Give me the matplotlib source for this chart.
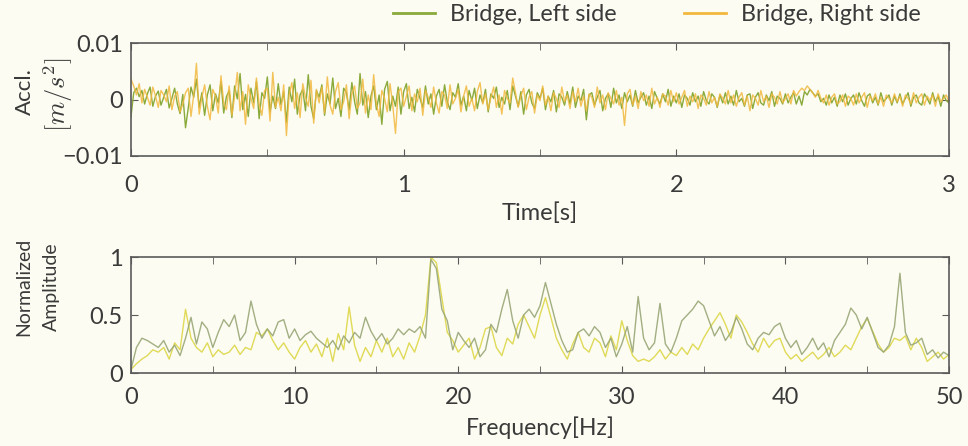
import numpy as np
import matplotlib
matplotlib.use("Agg")
import matplotlib.pyplot as plt
from matplotlib.ticker import MultipleLocator, FixedLocator

# ---------------- data ----------------
# acceleration, in 1e-3 m/s^2, sampled at 100 Hz over 3 s
left_acc_milli = [
    -3.0, 1.2, 2.0, 0.5, 1.6, -0.8, 1.0, 2.2, -1.2, 0.6, 1.5, -1.0, 0.4, 1.8, -1.5, 0.2, 2.0, -0.8, -2.5, 0.9,
    -5.0, -1.5, 2.2, 0.4, 3.6, -1.4, 1.2, -2.8, 0.8, 2.6, -2.0, 1.0, -0.6, 3.2, -2.4, 0.5, 1.6, -3.2, 2.4, 0.1,
    4.6, -1.8, 0.9, -3.0, 2.0, -0.6, 3.2, -3.4, 1.2, 0.2, 4.0, -2.2, 0.6, -1.6, 2.8, -0.9, 1.4, -4.0, 2.2, -0.4,
    3.6, -2.6, 0.8, 1.8, -2.0, 4.4, -1.2, -3.4, 1.6, 0.4, 2.6, -2.8, 1.0, -0.8, 3.8, -1.6, 0.2, -3.0, 2.0, 1.2,
    -1.8, 3.0, -0.4, -2.6, 4.6, -1.0, 1.4, -3.2, 0.6, 2.4, -1.8, 0.8, -4.4, 1.8, 3.2, -2.0, 0.6, -1.2, 2.2, -2.6,
    1.4, 2.8, -1.6, 0.4, -2.2, 1.8, 0.2, -1.4, 2.4, -0.8, 1.0, -2.6, 0.6, 1.8, -1.2, 2.6, -0.4, -1.8, 1.2, 0.4,
    2.8, -1.0, 0.6, -2.0, 1.6, -0.2, 2.0, -1.6, 0.8, -0.6, 1.8, -2.2, 1.0, 0.2, 2.2, -1.4, 0.4, -0.8, 1.6, -1.8,
    2.4, 0.6, -1.2, 1.4, -2.6, 0.8, 1.8, -0.6, -1.6, 1.2, 0.2, 2.0, -1.8, 0.6, -0.4, 1.6, -2.2, 1.0, 0.4, -1.0,
    1.4, -0.8, 2.2, -1.4, 0.6, -0.2, 1.8, -3.6, 0.8, 1.2, -1.0, 0.4, 1.6, -2.0, 0.2, 1.0, -1.4, 2.0, -0.6, 0.8,
    -1.6, 1.2, -0.4, 0.8, -1.2, 1.6, -0.6, 0.4, 1.2, -1.0, 0.6, -1.6, 1.4, 0.2, -0.8, 1.0, -0.4, 1.8, -1.2, 0.6,
    -0.6, 1.0, -1.4, 0.8, 0.2, -1.0, 1.2, -0.4, 0.6, -1.2, 1.4, -0.2, -0.8, 1.0, 0.4, -1.4, 0.8, -0.6, 1.2, -0.8,
    0.6, -1.0, 1.6, -0.4, 0.2, -1.2, 0.8, 1.0, -1.6, 0.4, 1.2, -0.6, -1.0, 0.8, -0.2, 1.4, -1.2, 0.6, 0.2, -0.8,
    1.0, -0.6, 0.4, 1.2, -0.8, 0.6, -1.0, 1.4, 0.8, 1.8, 1.2, 0.6, 1.0, -0.4, 0.2, -1.0, 0.8, -0.6, 0.4, -1.2,
    0.8, -0.4, 1.0, -1.0, 0.2, 0.8, -0.8, 1.2, -0.2, -1.2, 0.6, 1.0, -0.6, 0.4, -1.0, 1.2, -0.4, 0.2, 0.8, -1.0,
    0.6, -0.6, 1.0, -0.8, 0.2, 1.2, -1.2, 0.4, 0.8, -0.6, -1.0, 1.0, 0.2, -0.8, 1.2, -0.4, 0.6, -1.2, 0.8, -0.2,
    -0.6,
]
right_acc_milli = [
    3.6, 2.4, 0.8, 2.8, -0.6, 1.8, 0.4, -1.0, 2.2, 0.6, -1.4, 1.6, 0.8, -0.4, 2.4, -1.8, 0.6, 1.4, -2.2, -0.8,
    1.2, 2.0, -3.0, 0.8, 6.4, -2.6, 0.4, 2.6, -1.2, -3.6, 1.8, 0.6, -2.4, 4.2, -0.6, -1.8, 2.4, -2.8, 0.6, 4.8,
    -2.0, 1.4, -4.4, 2.6, 0.2, -1.6, 3.8, -0.8, -2.8, 1.6, 2.0, -3.8, 4.8, -1.4, 0.4, -2.0, 2.6, -6.4, 0.8, 3.0,
    -1.6, 1.2, -3.2, 2.8, 0.4, -1.2, 3.4, -4.2, 1.8, -0.6, 2.2, -2.4, 4.0, -1.0, -2.6, 1.4, 3.0, -1.8, -0.4, 2.6,
    -3.4, 1.0, 2.4, -1.6, -0.6, 3.6, -2.4, 0.8, -1.8, 4.4, -0.8, -3.0, 1.6, 0.2, -2.2, 2.8, -1.0, -6.0, 1.4, 2.0,
    -1.2, 0.6, 2.4, -2.0, 1.0, -0.4, 2.0, -2.8, 1.6, 0.4, -1.4, 2.2, -0.6, -2.4, 1.4, 0.8, -1.6, 2.6, -0.8, 0.2,
    1.8, -2.2, 0.6, 2.4, -1.2, 0.2, -2.0, 1.4, 3.0, -0.8, 1.0, -1.8, 0.4, 2.2, -1.4, 0.8, -2.6, 1.6, 0.2, -0.6,
    3.8, 1.2, -1.4, 0.6, 2.0, -1.8, 0.4, 1.4, -2.4, 0.8, -0.2, 2.4, -1.0, 0.6, -2.0, 1.2, 0.2, -1.4, 2.2, -0.4,
    0.8, -1.6, 1.4, -0.4, 2.0, -1.2, 0.6, -2.0, 1.0, 0.4, -1.4, 2.2, -0.6, 0.8, -1.8, 1.2, 0.2, -0.8, 1.6, -1.0,
    0.4, -4.6, 1.0, 1.8, -1.0, 0.6, -1.6, 1.4, -0.2, 0.8, -1.2, 2.0, -0.8, 0.4, -1.4, 1.0, 0.6, -1.0, 1.6, -0.4,
    1.2, -0.8, 0.4, 1.6, -1.2, 0.6, -0.4, 1.0, -1.6, 0.8, 0.2, -1.0, 1.4, -0.6, 0.4, -1.2, 1.0, 0.2, -0.8, 1.6,
    -0.6, 0.8, -1.2, 0.4, 1.2, -1.0, 0.6, -2.0, 0.8, 0.2, -1.0, 1.6, -0.4, 0.6, -1.4, 1.0, 0.4, -0.8, 1.4, -0.6,
    0.2, 1.0, -0.8, 1.6, 0.6, 1.4, 2.0, 1.6, 2.4, 1.8, 1.2, 0.4, 1.6, 0.2, -0.6, 0.8, -1.0, 0.4, 1.0, -0.8,
    -0.4, 0.8, -1.2, 0.6, 0.2, -1.0, 1.0, -0.6, 0.4, 1.2, -1.4, 0.6, -0.2, 1.0, -0.8, 0.4, -1.2, 0.8, 0.2, -0.6,
    1.0, -0.4, 0.6, -1.2, 0.8, 0.2, -0.8, 1.2, -0.6, 0.4, 1.0, -1.0, 0.6, -0.2, 0.8, -1.2, 1.0, -0.4, 0.2, 0.8,
    -0.4,
]

# normalized spectra, 0..50 Hz at 1/3 Hz resolution
left_amp = [
    0.03, 0.22, 0.30, 0.28, 0.25, 0.22, 0.28, 0.18, 0.24, 0.15, 0.30, 0.48,
    0.25, 0.44, 0.38, 0.22, 0.35, 0.46, 0.40, 0.50, 0.28, 0.35, 0.62, 0.42,
    0.30, 0.38, 0.32, 0.44, 0.46, 0.30, 0.38, 0.28, 0.33, 0.36, 0.30, 0.26,
    0.22, 0.28, 0.20, 0.32, 0.26, 0.35, 0.30, 0.48, 0.36, 0.28, 0.34, 0.25,
    0.30, 0.38, 0.33, 0.38, 0.35, 0.40, 0.30, 0.98, 0.90, 0.55, 0.45, 0.20,
    0.35, 0.28, 0.22, 0.30, 0.14, 0.20, 0.42, 0.35, 0.55, 0.72, 0.45, 0.30,
    0.50, 0.55, 0.48, 0.58, 0.78, 0.60, 0.42, 0.28, 0.18, 0.20, 0.35, 0.38,
    0.32, 0.40, 0.35, 0.22, 0.30, 0.14, 0.25, 0.40, 0.18, 0.66, 0.30, 0.20,
    0.26, 0.60, 0.25, 0.18, 0.30, 0.45, 0.50, 0.55, 0.62, 0.58, 0.45, 0.32,
    0.40, 0.28, 0.35, 0.48, 0.38, 0.25, 0.20, 0.30, 0.35, 0.33, 0.40, 0.43,
    0.30, 0.22, 0.28, 0.16, 0.22, 0.30, 0.20, 0.26, 0.14, 0.28, 0.35, 0.42,
    0.56, 0.50, 0.38, 0.48, 0.35, 0.22, 0.18, 0.24, 0.40, 0.86, 0.35, 0.24,
    0.26, 0.30, 0.16, 0.20, 0.13, 0.18, 0.15,
]
right_amp = [
    0.03, 0.08, 0.12, 0.15, 0.20, 0.18, 0.22, 0.12, 0.26, 0.20, 0.55, 0.30,
    0.22, 0.18, 0.26, 0.14, 0.20, 0.16, 0.18, 0.24, 0.16, 0.22, 0.20, 0.35,
    0.32, 0.38, 0.28, 0.20, 0.26, 0.18, 0.12, 0.22, 0.28, 0.18, 0.25, 0.14,
    0.30, 0.10, 0.34, 0.20, 0.57, 0.24, 0.10, 0.22, 0.14, 0.28, 0.18, 0.30,
    0.14, 0.22, 0.12, 0.26, 0.18, 0.32, 0.50, 1.00, 0.95, 0.65, 0.35, 0.28,
    0.18, 0.24, 0.30, 0.12, 0.22, 0.38, 0.40, 0.22, 0.15, 0.30, 0.25, 0.42,
    0.50, 0.40, 0.30, 0.50, 0.65, 0.48, 0.30, 0.20, 0.12, 0.25, 0.35, 0.22,
    0.18, 0.30, 0.26, 0.14, 0.32, 0.20, 0.45, 0.28, 0.15, 0.10, 0.12, 0.10,
    0.14, 0.20, 0.12, 0.18, 0.15, 0.22, 0.16, 0.25, 0.20, 0.30, 0.38, 0.45,
    0.52, 0.42, 0.30, 0.50, 0.44, 0.35, 0.25, 0.18, 0.30, 0.22, 0.28, 0.30,
    0.18, 0.12, 0.16, 0.10, 0.14, 0.18, 0.12, 0.16, 0.22, 0.14, 0.18, 0.24,
    0.20, 0.30, 0.40, 0.47, 0.36, 0.25, 0.18, 0.22, 0.30, 0.28, 0.32, 0.20,
    0.30, 0.22, 0.10, 0.14, 0.18, 0.12, 0.16,
]

series_labels = ["Bridge, Left side", "Bridge, Right side"]
time_ticks = [0, 1, 2, 3]
acc_ticks = [-0.01, 0, 0.01]
acc_tick_labels = ["\u22120.01", "0", "0.01"]
freq_ticks = [0, 10, 20, 30, 40, 50]
amp_ticks = [0, 0.5, 1]
amp_tick_labels = ["0", "0.5", "1"]

# ---------------- style ----------------
BG = "#fcfcf2"
TXT = "#3a3a3a"
SPINE = "#5a5a5a"
c_left_t, c_right_t = "#8aaa3c", "#f2b83e"
c_left_f, c_right_f = "#98a676", "#e0da58"

plt.rcParams["mathtext.fontset"] = "cm"
tick_font = ["Lato", "DejaVu Sans"]
FS = 17

fig = plt.figure(figsize=(9.68, 4.46), dpi=100, facecolor=BG)
ax1 = fig.add_axes([131 / 968, 1 - 156 / 446, 818 / 968, 113 / 446], facecolor=BG)
ax2 = fig.add_axes([131 / 968, 1 - 373 / 446, 818 / 968, 116 / 446], facecolor=BG)

left_acc = np.array(left_acc_milli) * 1e-3
right_acc = np.array(right_acc_milli) * 1e-3
t_left = np.linspace(0, 3, len(left_acc))
t_right = np.linspace(0, 3, len(right_acc))
f_left = np.linspace(0, 50, len(left_amp))
f_right = np.linspace(0, 50, len(right_amp))

l1, = ax1.plot(t_left, left_acc, color=c_left_t, lw=1.0, label=series_labels[0])
l2, = ax1.plot(t_right, right_acc, color=c_right_t, lw=1.0, alpha=0.85, label=series_labels[1])

ax2.plot(f_right, right_amp, color=c_right_f, lw=1.0)
ax2.plot(f_left, left_amp, color=c_left_f, lw=1.0, alpha=0.9)

ax1.set_xlim(0, 3)
ax1.set_ylim(-0.01, 0.01)
ax1.xaxis.set_major_locator(FixedLocator(time_ticks))
ax1.xaxis.set_minor_locator(MultipleLocator(0.5))
ax1.set_yticks(acc_ticks)
ax1.set_yticklabels(acc_tick_labels)

ax2.set_xlim(0, 50)
ax2.set_ylim(0, 1)
ax2.xaxis.set_major_locator(FixedLocator(freq_ticks))
ax2.xaxis.set_minor_locator(MultipleLocator(5))
ax2.set_yticks(amp_ticks)
ax2.set_yticklabels(amp_tick_labels)

for ax, xpad in ((ax1, 14), (ax2, 10)):
    for s in ax.spines.values():
        s.set_color(SPINE)
        s.set_linewidth(1.2)
    ax.tick_params(which="both", direction="in", top=True, right=True, colors=SPINE,
                   labelcolor=TXT, labelsize=FS)
    ax.tick_params(which="major", length=5)
    ax.tick_params(which="minor", length=5)
    ax.tick_params(axis="x", pad=xpad)
    ax.tick_params(axis="y", pad=6)
    for lab in ax.get_xticklabels() + ax.get_yticklabels():
        lab.set_family(tick_font)

ax1.set_xlabel("Time[s]", family=tick_font, fontsize=FS, color=TXT, labelpad=4)
ax2.set_xlabel("Frequency[Hz]", family=tick_font, fontsize=16.5, color=TXT, labelpad=6)

# y labels of the top panel: two rotated lines
fig.text(25 / 968, 1 - 92 / 446, "Accl.", rotation=90, ha="center", va="center",
         family=tick_font, fontsize=16, color=TXT)
fig.text(58 / 968, 1 - 95 / 446, r"$[m/s^2]$", rotation=90, ha="center", va="center",
         fontsize=19, color=TXT)

ax2.set_ylabel("Normalized\nAmplitude", family=tick_font, fontsize=14, color=TXT,
               linespacing=1.75, va="center", ha="center")
ax2.yaxis.set_label_coords((38 - 131) / 818, (373 - 287) / 116)

leg = fig.legend(handles=[l1, l2], labels=series_labels, loc="upper right",
                 bbox_to_anchor=(921 / 968, 1 - 4 / 446), ncol=2, frameon=False,
                 prop={"family": tick_font, "size": 16.8}, handlelength=1.8,
                 handletextpad=0.65, columnspacing=2.9, borderpad=0, borderaxespad=0)
for h in leg.get_lines():
    h.set_linewidth(2)
    h.set_alpha(1)
for t in leg.get_texts():
    t.set_color(TXT)

fig.savefig("out.png", dpi=100, facecolor=BG)
